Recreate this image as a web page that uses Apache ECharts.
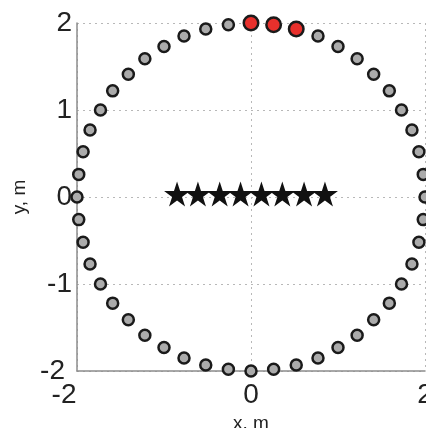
<!DOCTYPE html>
<html>
<head>
<meta charset="utf-8">
<script src="https://cdn.jsdelivr.net/npm/echarts@6/dist/echarts.min.js"></script>
<style>html,body{margin:0;padding:0;background:#fff;}#c{width:426px;height:428px;}</style>
</head>
<body>
<div id="c"></div>
<script>
// Array elements (gray circles)
var grayX = [2.00, 1.98, 1.93, 1.85, 1.73, 1.59, 1.41, 1.22, 1.00, 0.77,
             -0.26, -0.52, -0.77, -1.00, -1.22, -1.41, -1.59, -1.73, -1.85, -1.93, -1.98,
             -2.00, -1.98, -1.93, -1.85, -1.73, -1.59, -1.41, -1.22, -1.00, -0.77, -0.52, -0.26,
             0.00, 0.26, 0.52, 0.77, 1.00, 1.22, 1.41, 1.59, 1.73, 1.85, 1.93, 1.98];
var grayY = [0.00, 0.26, 0.52, 0.77, 1.00, 1.22, 1.41, 1.59, 1.73, 1.85,
             1.98, 1.93, 1.85, 1.73, 1.59, 1.41, 1.22, 1.00, 0.77, 0.52, 0.26,
             0.00, -0.26, -0.52, -0.77, -1.00, -1.22, -1.41, -1.59, -1.73, -1.85, -1.93, -1.98,
             -2.00, -1.98, -1.93, -1.85, -1.73, -1.59, -1.41, -1.22, -1.00, -0.77, -0.52, -0.26];
// Highlighted (red) elements
var redX = [0.00, 0.26, 0.52];
var redY = [2.00, 1.98, 1.93];
// Sources (stars)
var starX = [-0.85, -0.61, -0.36, -0.12, 0.12, 0.36, 0.61, 0.85];
var starY = [0, 0, 0, 0, 0, 0, 0, 0];
// Tick labels
var xTicks = [-2, 0, 2];
var yTicks = [-2, -1, 0, 1, 2];

function pairs(xs, ys) { return xs.map(function (x, i) { return [x, ys[i]]; }); }

var FONT = "'Liberation Sans', Arial, Helvetica, sans-serif";
var starPath = 'path://M95.1 0L117.6 69.1L190.2 69.1L131.4 111.8L153.9 180.9L95.1 138.2L36.3 180.9L58.8 111.8L0 69.1L72.6 69.1Z';

function axisBase() {
  return {
    type: 'value',
    axisLine: { show: true, onZero: false, lineStyle: { color: '#8c8c8c', width: 1.5 } },
    axisTick: { show: false },
    splitLine: { show: true, lineStyle: { color: '#b8b8b8', width: 1, type: [2, 4] } },
    nameLocation: 'middle',
    nameTextStyle: { fontFamily: FONT, fontSize: 19, color: '#222' }
  };
}

var chart = echarts.init(document.getElementById('c'), null, { renderer: 'canvas' });
chart.setOption({
  animation: false,
  backgroundColor: '#fff',
  grid: { left: 77, right: 1, top: 23, bottom: 57, containLabel: false, outerBoundsMode: 'none' },
  xAxis: Object.assign(axisBase(), {
    min: xTicks[0], max: xTicks[xTicks.length - 1], interval: xTicks[1] - xTicks[0],
    name: 'x, m', nameGap: 42,
    axisLabel: {
      fontFamily: FONT, fontSize: 28, color: '#222', margin: 10,
      formatter: function (v) { return v === -2 ? '{s|' + v + '}' : '' + v; },
      rich: { s: { fontFamily: FONT, fontSize: 28, color: '#222', padding: [0, 26, 0, 0] } }
    }
  }),
  yAxis: Object.assign(axisBase(), {
    min: yTicks[0], max: yTicks[yTicks.length - 1], interval: yTicks[1] - yTicks[0],
    name: 'y, m', nameGap: 47,
    axisLabel: {
      fontFamily: FONT, fontSize: 28, color: '#222', margin: 5,
      formatter: function (v) { return v === -2 ? '{s|' + v + '}' : '' + v; },
      rich: { s: { fontFamily: FONT, fontSize: 28, color: '#222', padding: [0, 7, 0, 0] } }
    }
  }),
  series: [
    {
      type: 'scatter', clip: false, data: pairs(grayX, grayY),
      symbol: 'circle', symbolSize: 11,
      itemStyle: { color: '#ababab', borderColor: '#1a1a1a', borderWidth: 2.5, opacity: 1 }
    },
    {
      type: 'scatter', clip: false, data: pairs(redX, redY),
      symbol: 'circle', symbolSize: 14.5,
      itemStyle: { color: '#e8302c', borderColor: '#1a1a1a', borderWidth: 2.5, opacity: 1 }
    },
    {
      type: 'scatter', clip: false, data: pairs(starX, starY),
      symbol: starPath, symbolSize: [26, 25], symbolOffset: [0, -3],
      itemStyle: { color: '#111', opacity: 1 }
    }
  ]
});
</script>
</body>
</html>
